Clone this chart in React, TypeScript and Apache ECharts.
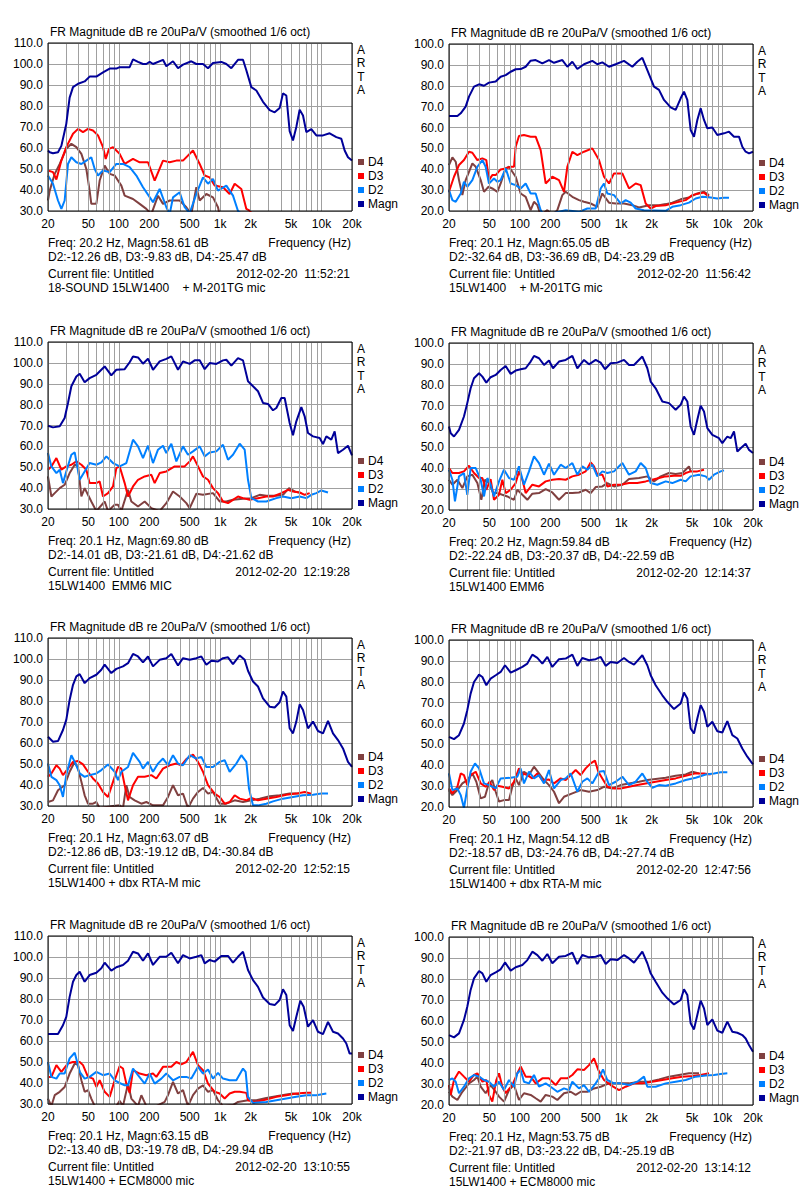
import React, { useEffect, useRef } from "react";
import * as echarts from "echarts";

// ---------- axis definitions ----------
const gridFreqs = [20, 30, 40, 50, 60, 70, 80, 90, 100, 200, 300, 400, 500, 600, 700, 800, 900, 1000, 2000, 3000, 4000, 5000, 6000, 7000, 8000, 9000, 10000, 20000];
const tickFreqs = [20, 50, 100, 200, 500, 1000, 2000, 5000, 10000, 20000];
const tickLabels = ["20", "50", "100", "200", "500", "1k", "2k", "5k", "10k", "20k"];
const seriesNames = ["D4", "D3", "D2", "Magn"];

// ---------- panel 1 : 18-SOUND 15LW1400 + M-201TG ----------
const p1Magn = [[20,58.8],[20.8,58],[22.4,57.5],[25.1,58],[27.1,61],[29.2,68],[30.3,71.5],[32.7,84],[35.3,89],[39.6,90.6],[46,91.7],[51.5,94],[60,94],[69.8,96],[81.2,97.8],[94.5,97.8],[101.9,98.5],[127.9,98.5],[138,102.2],[154.6,101],[173.2,100],[186.8,100],[201.5,101],[217.4,100],[272.8,102],[294.3,98.9],[342.4,101.3],[383.6,98],[429.8,99.7],[519.4,101.3],[581.9,100],[677,100],[758.5,98],[849.7,100.5],[1026.8,101],[1150.4,100],[1288.8,98],[1499.8,102],[1680.1,102],[1812.3,97],[2030,89],[2275,87.4],[2647,82],[3079,78],[3450,77],[3865,79],[4169,86],[4497,85],[4851,68],[5232,63.6],[5644,70],[6088,78.2],[6569,75.5],[7085,67.6],[7938,69],[8892,66],[10346,66],[12038,67],[14006,65.2],[15691,64.4],[16925,58.8],[18257,55.6],[20000,54]];
const p1D3 = [[20,49.3],[22.4,48.5],[24.2,45],[27.1,54],[30.3,60.4],[35.3,66.8],[39.6,69.1],[44.3,67.6],[49.6,69.1],[55.6,68.3],[62.3,66],[69.8,60.4],[74.2,54.8],[80,59.6],[87.6,60.4],[94.5,58.8],[101.9,57.2],[114.2,52.4],[138,54.8],[160.6,53.2],[194,53.2],[225.8,44.5],[272.8,54],[317.5,53.2],[369.4,54],[429.8,54],[539.4,58.8],[627.7,52.4],[703.2,46.9],[787.7,46],[882.5,42.1],[1066.5,41.3],[1240.9,38.1],[1390.2,43],[1617.6,40.5],[1812.3,31],[1954.8,30.2],[2109,28]];
const p1D2 = [[20,46.9],[22.4,43],[25.1,35],[27.1,31],[29.2,35],[31.5,52.4],[34,55.6],[38.1,53.2],[42.7,52.4],[47.8,54],[53.5,55.6],[57.8,50],[62.3,46.9],[69.8,49.3],[81.2,48.5],[94.5,52.4],[109.9,52.4],[127.9,50.9],[148.9,46.9],[173.2,41.3],[217.4,34.2],[252.9,40.5],[294.3,31.8],[317.5,28.5],[342.4,36.5],[398.4,38.9],[446.4,31.8],[500.1,29],[581.9,38.1],[677,46],[758.5,43],[849.7,45.3],[951.9,39.7],[1150.4,42.1],[1338.5,37.3],[1499.8,30],[1680.1,28]];
const p1D4 = [[20,35],[20.8,39.7],[23.3,47.7],[26.1,52.4],[30.3,59.6],[34,62],[38.1,60.4],[42.7,57.2],[47.8,50],[51.5,39.7],[53.5,33.4],[60,33.4],[64.7,44.5],[72.5,51.6],[81.2,47.7],[91,46.9],[105.9,42.1],[114.2,37.3],[138,35.7],[160.6,33.4],[186.8,31],[209.3,28.5],[243.5,37.3],[272.8,33.4],[317.5,35],[398.4,35],[463.6,31.8],[519.4,28.5],[581.9,41.3],[627.7,35],[730.3,38.1],[849.7,36.5],[951.9,31.8],[988.7,28]];

// ---------- panel 2 : 15LW1400 + M-201TG ----------
const p2Magn = [[20,65.5],[24.2,65.5],[26.1,66.8],[29.2,70],[31.5,74.8],[35.3,79.6],[39.6,80.7],[44.3,80],[49.6,81.5],[57.8,82],[64.7,84.3],[72.5,85.1],[81.2,86.7],[91,87.9],[101.9,88],[114.2,89.1],[127.9,92],[143.3,92.3],[166.8,90.7],[194,92.3],[217.4,91],[262.7,92.3],[294.3,89.1],[329.7,91.5],[369.4,88],[429.8,90.3],[519.4,91.9],[581.9,90.3],[651.9,91.2],[758.5,89.1],[882.5,90.3],[1066.5,91.9],[1288.8,89.1],[1443.8,91.5],[1617.6,93.4],[1812.3,87.5],[2109,79.6],[2362,78],[2647,73.2],[3079,69.6],[3450,68.4],[3865,74],[4169,77.2],[4497,73.2],[4851,58.8],[5232,55.6],[5644,63.6],[6088,69.2],[6569,63.6],[7085,59.6],[7938,60],[8892,56.4],[10346,57.2],[11591,58],[12985,55.6],[14546,55.6],[15691,50.8],[16925,48.4],[18257,47.6],[20000,48.4]];
const p2D3 = [[20,29.2],[22.4,36.4],[25.1,42],[28.1,44.4],[31.5,48.4],[34,47.9],[38.1,44.4],[42.7,45.2],[46.7,44.4],[49.6,34.8],[53.5,37.2],[57.8,37.2],[64.7,39.9],[72.5,40.4],[81.2,41.2],[87.6,41.2],[91,50.8],[98.1,55.9],[109.9,56.4],[127.9,55.6],[143.3,55.6],[160.6,49.2],[179.9,33.2],[209.3,36.4],[243.5,34.8],[272.8,29.2],[294.3,41.2],[329.7,48.4],[369.4,46.8],[429.8,48.4],[519.4,50],[604.3,44.4],[677,36.4],[758.5,33.2],[849.7,38],[1026.8,38],[1194.8,30.8],[1390.2,33.2],[1557.5,32.4],[1744.9,23.6],[1954.8,21.2],[2190,22.4],[2749,22.8],[3450,24],[4330,25.2],[5038,27.6],[5862,28.4],[6569,28.8],[7359,26.8]];
const p2D2 = [[20,30],[21.6,25.2],[23.3,24.4],[26.1,28.4],[28.1,34],[30.3,31.6],[34,34.8],[38.1,41.2],[42.7,44.4],[46,41.2],[49.6,33.2],[55.6,35.6],[60,34],[64.7,34.8],[72.5,40.4],[81.2,33.2],[91,32.4],[101.9,30.8],[114.2,33.2],[127.9,28.4],[143.3,28.4],[160.6,20.4],[173.2,18],[243.5,19.6],[283.4,20.4],[383.6,19.6],[463.6,21.2],[560.3,21.2],[627.7,30.8],[677,33.2],[730.3,28.4],[849.7,27.6],[988.7,23.6],[1107.6,25.2],[1240.9,24],[1390.2,21.2],[1680.1,20.4],[2749,20.1],[3198,22],[3865,22.8],[4671,24],[5434,26],[6325,26.8],[7643,26.5],[8892,26],[10346,26.3],[11591,26.3]];
const p2D4 = [[20,42],[21.6,45.7],[23.3,43.6],[25.1,34.8],[27.1,27.6],[29.2,34.8],[31.5,38.8],[34,42.8],[36.7,41.2],[41.1,34.8],[44.3,29.2],[48.9,31.6],[53.5,30.8],[60,29.2],[64.7,33.2],[72.5,40.4],[78.2,41.2],[91,36.4],[101.9,28.4],[114.2,26.8],[127.9,20.4],[138,24.4],[148.9,22.8],[160.6,18],[186.8,20.4],[209.3,18],[234.5,20.4],[262.7,27.6],[283.4,29.2],[329.7,26.8],[383.6,25.2],[429.8,24.4],[500.1,23.6],[581.9,22],[651.9,28.4],[758.5,24],[882.5,23.6],[1066.5,23.6],[1288.8,22.8],[1499.8,21.7],[1882.2,22.8],[2362,22.8],[2749,23.3],[3198,24],[3865,25.6],[4671,26.5],[5644,28.4],[6569,29.2],[7359,27.6]];

// ---------- panel 3 : 15LW1400 EMM6 MIC ----------
const p3Magn = [[20,69.9],[22.4,69.1],[26.1,69.6],[29.2,73.6],[31.5,80.8],[34,88.8],[38.1,93.5],[41.1,94.8],[46,90.7],[51.5,92.7],[60,94.3],[67.2,96.7],[72.5,98.3],[84.3,94],[94.5,96.7],[114.2,97],[127.9,100.3],[138,103.1],[154.6,102.6],[173.2,99.6],[194,102],[217.4,96.7],[252.9,100.7],[294.3,101.9],[329.7,103.1],[383.6,96.7],[429.8,100.7],[500.1,99.5],[560.3,101.2],[627.7,101.2],[703.2,97],[787.7,99.9],[916.6,99.5],[1066.5,101.2],[1150.4,101.5],[1288.8,98.7],[1499.8,102.3],[1680.1,101.2],[1882.2,91.2],[2109,88.8],[2362,86.4],[2647,80.8],[2965,80.3],[3322,77.3],[3583,78.4],[4014,83.2],[4330,83.2],[4851,71.2],[5232,65.3],[5644,72],[6325,78.8],[6822,74.4],[7359,66.4],[8244,64.8],[9592,64],[10346,61.1],[11160,64.8],[12502,63.2],[13486,67.2],[14546,56.8],[16296,58.4],[18257,60.3],[20000,55.7]];
const p3D2 = [[20,56.8],[21.6,50.4],[24.2,47.2],[26.1,48.8],[28.1,42.4],[30.3,48],[34,56],[36.7,57.1],[41.1,44],[46,48],[51.5,52],[60,51.2],[67.2,52.3],[75.3,55.2],[87.6,52],[101.9,50.4],[118.6,52],[138,63.2],[154.6,60],[173.2,54.4],[194,60.3],[217.4,52],[243.5,58.4],[272.8,60.3],[294.3,56.8],[329.7,61.3],[369.4,52.8],[429.8,60],[481.5,56],[539.4,57.6],[627.7,60],[703.2,55.2],[787.7,57.1],[916.6,57.6],[1066.5,60.8],[1194.8,53.6],[1338.5,56],[1557.5,61.3],[1744.9,58.4],[1882.2,44],[2030,35.2],[2362,33.6],[2855,33.6],[3583,35.2],[4169,36],[5038,35.2],[6088,36],[7085,35.2],[7938,36.8],[8892,37.6],[9962,38.9],[10745,38.4],[11591,37.9]];
const p3D3 = [[20,48.8],[21.6,50.4],[24.2,54.4],[27.1,48.8],[30.3,50.4],[34,51.2],[38.1,52.8],[42.7,51.2],[47.8,48.8],[51.5,42.4],[60,42.4],[64.7,43.2],[69.8,36],[78.2,37.6],[87.6,40.8],[94.5,49.6],[101.9,50.4],[114.2,42.4],[123.2,36],[138,40.8],[154.6,44],[179.9,45.6],[209.3,46.4],[225.8,42.4],[252.9,47.2],[294.3,48],[355.7,50.4],[446.4,50.4],[500.1,52.8],[539.4,55.2],[604.3,50.4],[677,45.6],[758.5,44],[849.7,40],[951.9,37.6],[1066.5,33.6],[1194.8,32.8],[1338.5,34.4],[1499.8,36],[1680.1,35.2],[1954.8,34.4],[2362,35.2],[2855,36],[3322,36],[4014,37.6],[4671,39.2],[5232,38.4],[6088,37.9],[6822,36.8],[7643,37.6]];
const p3D4 = [[20,45.6],[21.6,36],[23.3,37.6],[26.1,40],[29.2,41.6],[32.7,47.2],[36.7,51.2],[39.6,50.4],[42.7,36],[46,40],[49.6,36.8],[53.5,33.6],[60,29],[72.5,33.6],[78.2,29],[91,32],[98.1,32],[105.9,29],[123.2,39.2],[132.9,33.6],[154.6,31.2],[179.9,33.6],[209.3,30.4],[252.9,29],[294.3,32.8],[342.4,38.4],[398.4,36],[463.6,32.8],[500.1,30.4],[581.9,37.3],[677,36.8],[849.7,37.6],[988.7,33.6],[1150.4,33.6],[1338.5,34.4],[1680.1,34.9],[2030,35.2],[2454,36.8],[2855,36.3],[3583,36.3],[4169,36.8],[4778,40],[5434,38.4],[6325,37.6]];

// ---------- panel 4 : 15LW1400 EMM6 ----------
const p4Magn = [[20,60],[20.8,56.8],[22.4,55.2],[25.1,58.4],[28.1,64.8],[30.3,71.2],[32.7,78.3],[35.3,83.1],[39.6,85.5],[42.7,83.9],[46.7,81],[51.5,83.6],[57.8,84.7],[64.7,87.1],[72.5,89],[81.2,85.2],[91,86.8],[101.9,87.4],[114.2,87.9],[127.9,91.1],[138,93.8],[154.6,92.7],[173.2,89.5],[194,91.6],[212.5,87.9],[243.5,91.1],[283.4,91.9],[329.7,93.8],[369.4,87.9],[429.8,91.9],[481.5,89.8],[560.3,91.9],[627.7,90.6],[692.6,87.4],[787.7,90.3],[916.6,90.6],[1066.5,91.9],[1194.8,89.5],[1338.5,89.5],[1617.6,93.5],[1812.3,87.9],[1954.8,81.5],[2190,78.3],[2548,72],[2965,71.2],[3450,68],[3865,70.4],[4169,74.3],[4497,72],[4851,60],[5232,56],[5644,63.2],[6088,69.9],[6569,67.2],[7085,59.2],[7938,56],[9235,54.4],[9962,52],[11160,55.2],[12038,54.4],[12985,57.6],[14006,48],[15108,49.6],[16925,51.7],[18257,48.8],[20000,47.3]];
const p4D2 = [[20,39.3],[21.6,34.5],[22.9,24.1],[25.1,36.1],[28.1,37.7],[30.3,27.3],[32.7,40.1],[36.7,40.1],[41.1,34.5],[44.3,26.5],[47.8,35.3],[51.5,32.1],[55.6,26.5],[62.3,33.7],[69.8,39.3],[78.2,35.3],[87.6,34.5],[98.1,40.9],[109.9,32.1],[123.2,38.5],[138,45.7],[154.6,42.5],[173.2,36.9],[194,42.2],[217.4,36.9],[252.9,41.7],[283.4,40.1],[329.7,42.5],[369.4,36.9],[413.8,40.9],[463.6,39.3],[519.4,41.7],[581.9,36.1],[651.9,38.5],[730.3,37.7],[849.7,38.5],[1026.8,42.5],[1194.8,36.9],[1390.2,38.5],[1557.5,42.5],[1744.9,40.1],[1954.8,32.9],[2275,32.1],[2749,33.7],[3198,32.9],[3865,34.5],[4330,33.7],[4851,36.1],[5862,36.9],[6822,36.1],[7359,34.5],[8244,36.9],[9592,38.5],[10346,39]];
const p4D3 = [[20,40.1],[21.6,37.7],[25.1,37.7],[28.1,38.5],[31.5,41.2],[35.3,37.7],[39.6,35.3],[42.7,35.3],[46.7,29.7],[51.5,34.8],[55.6,24.9],[62.3,27.3],[67.2,34.5],[72.5,28.1],[81.2,29.7],[91,32.9],[98.1,38.5],[105.9,34.5],[114.2,28.1],[132.9,32.1],[154.6,31.3],[179.9,33.7],[209.3,34.5],[243.5,34.8],[283.4,34.5],[329.7,36.1],[383.6,36.9],[446.4,38.5],[500.1,42.8],[539.4,40.9],[581.9,36.9],[651.9,36.9],[730.3,31.3],[849.7,32.1],[988.7,32.1],[1194.8,32.9],[1443.8,32.9],[1744.9,33.7],[2030,34.5],[2362,35.3],[2749,36.1],[3322,36.4],[3865,36.4],[4330,37.7],[4851,38.5],[5644,38.5],[6569,39.3]];
const p4D4 = [[20,34.5],[21.6,32.1],[24.2,34.5],[27.1,30.5],[30.3,36.1],[34,36.9],[38.1,32.9],[41.7,24.9],[45.3,34.5],[49.6,32.9],[54.8,28.1],[60,28.1],[67.2,27.3],[75.3,26.5],[87.6,24.9],[94.5,29.7],[105.9,27.3],[118.6,24.9],[132.9,27.8],[154.6,28.1],[179.9,30],[209.3,28.4],[243.5,24.9],[283.4,28.1],[329.7,28.1],[383.6,28.4],[446.4,29.7],[500.1,28.1],[560.3,31],[651.9,31.3],[730.3,32.9],[849.7,31.3],[1026.8,32.1],[1194.8,34.8],[1499.8,35.3],[1812.3,36.1],[2109,33.7],[2454,36.1],[2965,37.7],[3450,37.3],[4014,37.7],[4330,39.3],[4671,40.9],[4851,38.5]];

// ---------- panel 5 : 15LW1400 + dbx RTA-M (1) ----------
const p5Magn = [[20,63],[22.4,60.6],[25.1,60.9],[28.1,66.2],[30.3,71],[32.7,80.5],[35.3,87.7],[38.1,91.7],[41.1,92.8],[46,88.5],[51.5,90.9],[60,92.5],[67.2,94.9],[72.5,97.3],[84.3,93.3],[94.5,95.3],[109.9,96.5],[123.2,98],[138,102.4],[154.6,101.2],[173.2,98.4],[194,101.2],[217.4,96.5],[252.9,99.6],[294.3,100.4],[329.7,102.4],[383.6,96.9],[429.8,100.4],[500.1,99.6],[581.9,100.4],[651.9,101.2],[730.3,97.3],[818.2,99.2],[951.9,98.8],[1066.5,100.4],[1194.8,100.8],[1338.5,97.6],[1557.5,101.7],[1744.9,99.6],[1882.2,94.4],[2109,89.3],[2362,86.9],[2647,81.3],[3079,77.3],[3450,76.9],[3865,79.4],[4169,84.5],[4497,82.1],[4851,67],[5232,64.6],[5644,70.2],[6088,78.4],[6569,75.7],[7359,67],[8244,70.2],[9235,65.7],[10346,64.6],[11591,70.5],[12985,64.6],[14546,61.4],[16296,57.4],[18257,51],[20000,48.6]];
const p5D2 = [[20,50.2],[21.6,43.9],[24.2,42.3],[26.1,39.9],[28.1,34.3],[30.3,44.7],[34,54.2],[36.7,51],[41.1,45.5],[46,43.9],[51.5,44.7],[60,45.5],[67.2,47.1],[78.2,49.8],[91,46.3],[98.1,42.3],[105.9,46.3],[123.2,48.6],[138,55.3],[160.6,51],[173.2,47.8],[194,51],[217.4,46.3],[243.5,50.2],[272.8,52.6],[305.7,49.4],[342.4,54.2],[383.6,50.2],[429.8,49.4],[500.1,54.2],[581.9,52.6],[651.9,53.4],[730.3,48.6],[849.7,48.6],[988.7,51],[1107.6,51.8],[1240.9,46.3],[1443.8,50.2],[1617.6,54.2],[1812.3,51],[1925,38.3],[2109,30.3],[2362,30.3],[2855,31.1],[3322,32.2],[4169,33.5],[5232,34.3],[6569,35.1],[8244,35.4],[9962,35.9],[11591,35.9]];
const p5D3 = [[20,43.9],[21.6,45.5],[24.2,49.4],[26.1,47.8],[28.1,44.7],[31.5,47.8],[35.3,51],[39.6,51.4],[44.3,49.8],[49.6,46.3],[55.6,43.1],[62.3,40.7],[69.8,36.7],[78.2,34.3],[87.6,41.5],[98.1,48.6],[105.9,47.8],[114.2,39.9],[123.2,32.7],[138,39.9],[154.6,43.9],[179.9,43.9],[209.3,44.7],[234.5,43.1],[272.8,47.8],[317.5,49.4],[369.4,50.2],[413.8,49.4],[463.6,52.3],[539.4,54.5],[604.3,51],[677,46.3],[758.5,39.9],[882.5,35.9],[988.7,34.3],[1107.6,31.1],[1240.9,31.9],[1390.2,35.1],[1557.5,33.5],[1812.3,32.7],[2030,33.8],[2362,32.7],[2855,33.5],[3583,34.3],[4497,35.4],[5644,35.9],[6822,36.7],[7938,35.9]];
const p5D4 = [[20,31.9],[22.4,32.7],[25.1,37.5],[29.2,39.9],[32.7,46.3],[36.7,51],[39.6,47.8],[42.7,41.5],[46,35.1],[49.6,31.1],[55.6,31.1],[60,31.9],[64.7,29],[87.6,30],[101.9,30.3],[109.9,29],[118.6,39.9],[127.9,34.3],[143.3,32.7],[166.8,31.1],[186.8,31.9],[217.4,30.3],[272.8,30.3],[305.7,34.3],[342.4,39.9],[383.6,35.1],[429.8,35.9],[481.5,29],[539.4,33.5],[604.3,36.7],[677,38.6],[758.5,35.9],[849.7,36.7],[988.7,31.1],[1150.4,31.1],[1390.2,32.7],[1680.1,31.9],[2030,32.7],[2454,33.5],[3079,34.6],[3865,35.1],[4851,35.9],[6088,35.9]];

// ---------- panel 6 : 15LW1400 + dbx RTA-M (2) ----------
const p6Magn = [[20,53.6],[22.4,52.5],[25.1,54.4],[28.1,60],[30.3,66.4],[32.7,74.3],[35.3,79.9],[39.6,83.4],[42.7,82.3],[46.7,78.3],[51.5,81.5],[57.8,83.1],[64.7,84.7],[71.4,87.9],[81.2,84.4],[91,85.5],[105.9,87.1],[118.6,88.7],[132.9,93],[148.9,91.4],[166.8,88.7],[186.8,91.9],[209.3,87.1],[243.5,90.8],[283.4,91.1],[329.7,93],[369.4,87.6],[413.8,91.4],[481.5,90.3],[560.3,90.8],[627.7,91.9],[703.2,87.6],[787.7,89.5],[916.6,89],[1066.5,91.4],[1194.8,89.5],[1338.5,88.2],[1617.6,92.7],[1812.3,87.9],[1954.8,83.1],[2190,78.3],[2548,73.5],[2855,70.4],[3322,66.9],[3865,69.6],[4169,74.8],[4497,72],[4851,57.6],[5232,55.2],[5644,62.4],[6088,68.8],[6569,65.6],[7085,58.4],[7938,60.8],[8892,56.3],[9962,55.7],[11160,61.1],[12502,54.4],[14006,52.8],[15691,48],[17578,44.1],[20000,40.4]];
const p6D2 = [[20,36.1],[21.6,28.1],[24.2,28.9],[26.1,25.7],[28.1,19.5],[30.3,28.9],[32.7,36.9],[36.1,40.9],[39.6,38.5],[44.3,31.3],[49.6,30.5],[57.8,28.9],[64.7,33.7],[81.2,34],[94.5,34.5],[101.9,38.5],[109.9,31.3],[123.2,36.9],[138,33.7],[154.6,35.3],[173.2,31.3],[194,37.7],[217.4,28.9],[252.9,32.9],[283.4,33.7],[317.5,36.1],[369.4,27.3],[413.8,32.1],[463.6,33.7],[519.4,31.3],[604.3,36.9],[677,37.2],[758.5,30.5],[882.5,32.1],[1026.8,34.5],[1194.8,30.5],[1390.2,32.1],[1617.6,36.1],[1812.3,32.1],[2030,29.2],[2362,30.5],[2749,30.2],[3450,31.3],[4330,32.9],[5434,34],[6822,35.6],[8244,36.1],[9592,36.6],[11160,36.6]];
const p6D3 = [[20,28.9],[21.6,26.5],[24.2,29.7],[26.1,36.1],[28.1,35.3],[30.3,30.5],[32.7,35.3],[36.7,36.9],[41.1,31.3],[46,29.7],[50.4,32.1],[55.6,28.1],[60,30.2],[67.2,29.7],[78.2,28.9],[87.6,32.1],[98.1,38.5],[105.9,36.1],[118.6,35.3],[132.9,33.7],[148.9,36.1],[166.8,32.9],[194,33.2],[217.4,31.3],[252.9,33.7],[283.4,32.9],[317.5,35.3],[355.7,37.7],[398.4,35.3],[446.4,38.5],[500.1,40.9],[551.8,42.2],[595.2,36.9],[651.9,33.7],[730.3,29.7],[849.7,28.9],[988.7,28.9],[1194.8,29.7],[1443.8,30.5],[1744.9,31.3],[2190,32.1],[2749,32.9],[3450,33.7],[4330,35],[5434,36.1],[6569,36.1],[7643,35.6]];
const p6D4 = [[20,28.1],[21.6,25.7],[24.2,28.1],[27.1,31.3],[30.3,32.9],[34,36.1],[37.2,32.1],[41.1,24.1],[45.3,24.9],[48.9,30.5],[53.5,32.9],[57.8,27.3],[62.3,22.6],[69.8,23.3],[78.2,23.3],[84.3,29.7],[91,33.7],[98.1,30.5],[109.9,36.9],[123.2,35.3],[138,39.3],[154.6,36.1],[173.2,32.9],[194,30.5],[217.4,27.3],[243.5,21.8],[272.8,24.9],[329.7,26.5],[398.4,28.1],[481.5,27.3],[581.9,28.1],[677,29.7],[818.2,28.9],[988.7,30.5],[1194.8,31.3],[1499.8,32.1],[1812.3,32.9],[2190,33.4],[2749,34],[3450,35],[4330,35.6],[5038,36.9],[5862,36.1]];

// ---------- panel 7 : 15LW1400 + ECM8000 (1) ----------
const p7Magn = [[20,63.3],[25.1,63.3],[28.1,67.5],[30.3,71.5],[32.7,81],[35.3,88.2],[38.1,91.4],[41.1,93],[46,88.2],[51.5,91.4],[60,92.5],[67.2,94.6],[72.5,97.3],[84.3,93.5],[94.5,95.1],[109.9,96.2],[123.2,98.2],[138,102.5],[154.6,101.7],[173.2,98.2],[194,101.7],[217.4,96.2],[252.9,100.1],[294.3,100.1],[329.7,102],[383.6,97],[429.8,100.9],[500.1,99.3],[581.9,100.1],[651.9,100.9],[703.2,97],[787.7,98.6],[882.5,97.8],[1026.8,100.5],[1194.8,100.5],[1338.5,97.3],[1499.8,100.1],[1680.1,102.5],[1882.2,93.8],[2109,89],[2362,85.8],[2647,80.7],[3079,77.6],[3450,77.1],[3865,79.5],[4169,84.6],[4497,81.9],[4851,67.5],[5232,64.8],[5644,71.5],[6182,79.2],[6669,76.3],[7359,66.8],[8244,69.9],[9235,64.4],[10346,63.3],[11591,69.1],[12985,64.4],[14546,63.6],[16296,61.2],[17578,58.8],[18961,54],[20000,54]];
const p7D2 = [[20,50],[21.6,42.9],[24.2,42.1],[26.1,44.5],[29.2,44.5],[32.7,51.7],[36.7,54.4],[41.1,45.3],[46,42.1],[51.5,42.9],[60,45.3],[69.8,43.7],[81.2,44.5],[91,41.3],[101.9,40],[114.2,38.9],[123.2,38.9],[138,46.9],[154.6,43.7],[179.9,39.7],[201.5,44.5],[225.8,39.7],[262.7,42.1],[294.3,44.5],[342.4,41.3],[398.4,42.9],[463.6,42.9],[519.4,42.1],[604.3,47.7],[677,44.5],[758.5,46.4],[849.7,42.1],[951.9,44.8],[1066.5,42.1],[1240.9,41.3],[1443.8,41.3],[1680.1,46.9],[1785,45.3],[1882.2,33.4],[2109,30.5],[2855,31],[3583,31.8],[4497,32.6],[5644,33.4],[7085,34.2],[8892,34.2],[11160,35]];
const p7D3 = [[20,42.9],[21.6,42.9],[24.2,48.5],[27.1,45.3],[31.5,49.3],[35.3,50],[41.1,50],[44.3,48.5],[49.6,42.9],[55.6,42.1],[60,38.1],[64.7,41.3],[72.5,35.8],[81.2,33.4],[91,41.3],[101.9,48],[109.9,46.9],[118.6,39.7],[127.9,35.3],[138,46.1],[160.6,44.5],[186.8,43.7],[217.4,44.5],[234.5,42.9],[272.8,47.7],[329.7,47.7],[369.4,50],[413.8,48.9],[463.6,50],[539.4,54.8],[604.3,48.5],[677,46.1],[758.5,39.7],[882.5,35.8],[988.7,35],[1107.6,32.6],[1240.9,35],[1390.2,35.8],[1557.5,35.8],[1812.3,35.3],[1882.2,31.8],[2190,31],[2855,32.1],[3583,33.4],[4497,34.2],[5644,35],[7085,35.3],[7938,35.3]];
const p7D4 = [[20,32.6],[21.6,29],[23.3,34.2],[26.1,35.8],[29.2,38.1],[32.7,44.5],[36.7,49.3],[39.6,48.5],[42.7,41.3],[46,35.8],[49.6,36.6],[53.5,32.6],[57.8,29],[94.5,29],[101.9,31.5],[109.9,29],[123.2,39.7],[132.9,32.6],[154.6,29],[166.8,34.2],[186.8,29],[234.5,29],[283.4,31],[305.7,34.2],[342.4,40.5],[383.6,35],[429.8,36.6],[481.5,29],[539.4,34.2],[604.3,37.3],[677,38.9],[758.5,35.8],[849.7,36.6],[951.9,31.8],[1066.5,29],[1338.5,29.5],[1499.8,31],[1882.2,31.8],[2275,31.8],[2855,32.9],[3583,33.7],[4497,34.5],[5232,35],[6088,34.7]];

// ---------- panel 8 : 15LW1400 + ECM8000 (2) ----------
const p8Magn = [[20,53.3],[22.4,52.2],[25.1,54.1],[28.1,60.5],[30.3,66.8],[32.7,74.8],[35.3,80.3],[39.6,83.8],[42.7,82.7],[46.7,78.7],[51.5,81.9],[57.8,83.2],[64.7,84.6],[71.4,87.9],[81.2,84],[91,85.6],[105.9,86.7],[118.6,89],[132.9,93],[148.9,91.4],[166.8,88.7],[186.8,91.9],[209.3,87.5],[243.5,90.6],[283.4,91],[329.7,92.5],[369.4,87.1],[413.8,91.4],[481.5,90.3],[560.3,90.6],[627.7,91.4],[703.2,87.1],[787.7,89.4],[916.6,89],[1066.5,91.4],[1194.8,89.8],[1338.5,87.8],[1617.6,93],[1812.3,87.5],[1954.8,82.7],[2190,78.7],[2548,73.5],[2855,70.8],[3322,67.9],[3865,70],[4169,75.1],[4497,72.4],[4851,58.9],[5232,56],[5644,62.9],[6088,69.7],[6569,66],[7085,58.1],[7938,60.8],[8892,55.4],[9962,54.4],[11160,59.7],[12502,54.9],[14006,54.4],[15691,53.3],[16925,51.7],[18257,48.6],[20000,45.4]];
const p8D2 = [[20,31.9],[21.6,32.7],[23.3,31.1],[25.1,25.6],[28.1,28.7],[31.5,32.7],[35.3,34.3],[39.6,33.5],[44.3,31.9],[49.6,31.1],[55.6,28.7],[62.3,31.1],[69.8,27.1],[78.2,31.9],[87.6,28.7],[94.5,35.1],[101.9,36.7],[109.9,31.1],[123.2,30.3],[138,34.3],[154.6,28.7],[179.9,30.3],[201.5,28.7],[234.5,26.3],[272.8,27.9],[305.7,27.1],[329.7,31.1],[383.6,27.9],[429.8,29.5],[481.5,26.3],[560.3,30.3],[604.3,32.7],[661.8,37],[730.3,31.9],[849.7,30.3],[988.7,30.3],[1194.8,29.5],[1443.8,31.1],[1680.1,33.5],[1812.3,28.7],[2190,28.7],[2749,30.3],[3450,31.1],[4330,31.9],[5434,33.5],[6822,34],[8244,34.3],[9592,34.8],[11160,35.1]];
const p8D3 = [[20,29.5],[20.8,24.8],[22.4,31.9],[25.1,35.9],[28.1,33.5],[31.5,31.1],[35.3,34.3],[38.1,35.1],[42.7,31.1],[46.7,31.9],[49.6,24.8],[53.5,21.6],[58.6,31.9],[62.3,35.1],[67.2,28.7],[72.5,25.6],[84.3,29.5],[94.5,35.1],[101.9,38.3],[114.2,33.5],[127.9,33.5],[143.3,30.3],[166.8,32.7],[194,32.7],[225.8,29.5],[252.9,32.7],[294.3,32.7],[329.7,34.3],[369.4,37],[429.8,36.7],[481.5,39],[539.4,42.2],[595.2,36.7],[677,31.9],[787.7,29.5],[951.9,27.1],[1107.6,28.7],[1338.5,30.3],[1617.6,30.3],[2030,31.1],[2548,31.9],[3198,32.7],[4014,33.5],[5038,33.8],[6088,34.3],[7359,35.1]];
const p8D4 = [[20,26.3],[21.6,24],[24.2,22.4],[27.1,26.3],[31.5,30.3],[35.3,31.9],[38.1,33.5],[41.1,28.7],[46,25.6],[51.5,29.5],[57.8,26.3],[62.3,24],[69.8,21.6],[78.2,27.1],[87.6,29.5],[98.1,22.4],[109.9,25.6],[127.9,24.8],[143.3,23.2],[160.6,21.6],[179.9,24.8],[209.3,24],[234.5,22.4],[272.8,25.6],[317.5,26.3],[355.7,24.8],[398.4,26.3],[463.6,26.3],[539.4,27.9],[627.7,28.7],[758.5,30.3],[951.9,30.3],[1194.8,30.3],[1499.8,31.1],[1882.2,31.1],[2362,32.2],[2965,33.5],[3721,34.3],[4671,35.1],[5862,35.1]];

// ---------- per-panel texts ----------
const yRanges = [[30, 110], [20, 100], [30, 110], [20, 100], [30, 110], [20, 100], [30, 110], [20, 100]];
const cursorTexts = ["Freq: 20.2 Hz, Magn:58.61 dB", "Freq: 20.1 Hz, Magn:65.05 dB", "Freq: 20.1 Hz, Magn:69.80 dB", "Freq: 20.2 Hz, Magn:59.84 dB", "Freq: 20.1 Hz, Magn:63.07 dB", "Freq: 20.1 Hz, Magn:54.12 dB", "Freq: 20.1 Hz, Magn:63.15 dB", "Freq: 20.1 Hz, Magn:53.75 dB"];
const distTexts = ["D2:-12.26 dB, D3:-9.83 dB, D4:-25.47 dB", "D2:-32.64 dB, D3:-36.69 dB, D4:-23.29 dB", "D2:-14.01 dB, D3:-21.61 dB, D4:-21.62 dB", "D2:-22.24 dB, D3:-20.37 dB, D4:-22.59 dB", "D2:-12.86 dB, D3:-19.12 dB, D4:-30.84 dB", "D2:-18.57 dB, D3:-24.76 dB, D4:-27.74 dB", "D2:-13.40 dB, D3:-19.78 dB, D4:-29.94 dB", "D2:-21.97 dB, D3:-23.22 dB, D4:-25.19 dB"];
const dateTexts = ["2012-02-20  11:52:21", "2012-02-20  11:56:42", "2012-02-20  12:19:28", "2012-02-20  12:14:37", "2012-02-20  12:52:15", "2012-02-20  12:47:56", "2012-02-20  13:10:55", "2012-02-20  13:14:12"];
const descTexts = ["18-SOUND 15LW1400    + M-201TG mic", "15LW1400    + M-201TG mic", "15LW1400  EMM6 MIC", "15LW1400 EMM6", "15LW1400 + dbx RTA-M mic", "15LW1400 + dbx RTA-M mic", "15LW1400 + ECM8000 mic", "15LW1400 + ECM8000 mic"];
const panelData = [
  [p1D4, p1D3, p1D2, p1Magn], [p2D4, p2D3, p2D2, p2Magn], [p3D4, p3D3, p3D2, p3Magn], [p4D4, p4D3, p4D2, p4Magn],
  [p5D4, p5D3, p5D2, p5Magn], [p6D4, p6D3, p6D2, p6Magn], [p7D4, p7D3, p7D2, p7Magn], [p8D4, p8D3, p8D2, p8Magn],
];
const TITLE = "FR Magnitude dB re 20uPa/V (smoothed 1/6 oct)";

// ---------- layout & style ----------
const layouts = [
  { left: 48, top: 43, height: 168 }, { left: 449, top: 44, height: 167 },
  { left: 48, top: 342, height: 167 }, { left: 449, top: 343, height: 167 },
  { left: 48, top: 638, height: 168 }, { left: 449, top: 640, height: 167 },
  { left: 48, top: 936, height: 168 }, { left: 449, top: 937, height: 168 },
];
const PW = 304;
const FONT = '"Liberation Sans", Arial, sans-serif';
const colors = ["#804040", "#ff0000", "#0080ff", "#000099"];
const GRID_GRAY = "#a0a0a0";

function buildOption() {
  const grid: any[] = [];
  const xAxis: any[] = [];
  const yAxis: any[] = [];
  const series: any[] = [];
  const legend: any[] = [];
  const graphic: any[] = [];
  const font = "12px " + FONT;

  layouts.forEach((L, i) => {
    const [ymin, ymax] = yRanges[i];
    grid.push({ left: L.left, top: L.top, width: PW, height: L.height, containLabel: false });
    xAxis.push({
      type: "log", logBase: 10, min: 20, max: 20000, gridIndex: i,
      axisLine: { show: false }, axisTick: { show: false }, axisLabel: { show: false }, splitLine: { show: false },
    });
    yAxis.push({
      type: "value", min: ymin, max: ymax, interval: 10, gridIndex: i,
      axisLine: { show: false }, axisTick: { show: false },
      axisLabel: { formatter: (v: number) => v.toFixed(1), color: "#000", fontSize: 12, fontFamily: FONT, margin: 5 },
      splitLine: { show: true, lineStyle: { color: GRID_GRAY, width: 1 } },
    });
    // vertical log grid + frequency labels
    series.push({
      type: "line", xAxisIndex: i, yAxisIndex: i, data: [], silent: true, z: 1,
      markLine: {
        silent: true, symbol: ["none", "none"], animation: false,
        lineStyle: { color: GRID_GRAY, width: 1, type: "solid" },
        label: { show: false },
        emphasis: { disabled: true },
        data: gridFreqs.map((f) => {
          const k = tickFreqs.indexOf(f);
          return {
            xAxis: f,
            label: k >= 0
              ? { show: true, position: "start", formatter: tickLabels[k], color: "#000", fontSize: 12, fontFamily: FONT, distance: 7 }
              : { show: false },
          };
        }),
      },
    });
    panelData[i].forEach((d, s) => {
      series.push({
        type: "line", name: seriesNames[s], xAxisIndex: i, yAxisIndex: i,
        data: d, showSymbol: false, symbol: "none", color: colors[s],
        lineStyle: { color: colors[s], width: 2 }, z: 2 + s, clip: true, silent: true,
      });
    });
    legend.push({
      data: seriesNames, orient: "vertical", left: L.left + 310, top: L.top + 113,
      itemWidth: 6, itemHeight: 6, itemGap: 2, icon: "rect", padding: 0, selectedMode: false,
      textStyle: { fontSize: 12, color: "#000", fontFamily: FONT, padding: [0, 0, 0, -1] },
    });
    const bottom = L.top + L.height;
    const t = (text: string, x: number, y: number, align = "left") => ({
      type: "text", x, y, silent: true, z: 50,
      style: { text, font, fill: "#000", align, verticalAlign: "middle" },
    });
    graphic.push(t(TITLE, L.left + 2, L.top - 11));
    ["A", "R", "T", "A"].forEach((c, k) => graphic.push(t(c, L.left + 313, L.top + 7 + k * 13.4, "center")));
    graphic.push(t(cursorTexts[i], L.left, bottom + 31.5));
    graphic.push(t("Frequency (Hz)", L.left + 303, bottom + 31.5, "right"));
    graphic.push(t(distTexts[i], L.left, bottom + 45.5));
    graphic.push(t("Current file: Untitled", L.left, bottom + 63));
    graphic.push(t(dateTexts[i], L.left + 302, bottom + 63, "right"));
    graphic.push(t(descTexts[i], L.left, bottom + 76.5));
    graphic.push({
      type: "rect", silent: true, z: 60,
      shape: { x: L.left, y: L.top, width: PW, height: L.height },
      style: { fill: "none", stroke: "#000", lineWidth: 1 },
    });
  });

  return {
    animation: false,
    backgroundColor: "#ffffff",
    textStyle: { fontFamily: FONT },
    grid, xAxis, yAxis, series, legend, graphic,
  };
}

export default function App() {
  const ref = useRef<HTMLDivElement>(null);
  useEffect(() => {
    if (!ref.current) return;
    const chart = echarts.init(ref.current, null, { renderer: "svg" });
    chart.setOption(buildOption() as any);
    return () => chart.dispose();
  }, []);
  return (
    <div
      ref={ref}
      style={{ position: "absolute", left: 0, top: 0, width: 800, height: 1192, background: "#fff" }}
    />
  );
}
